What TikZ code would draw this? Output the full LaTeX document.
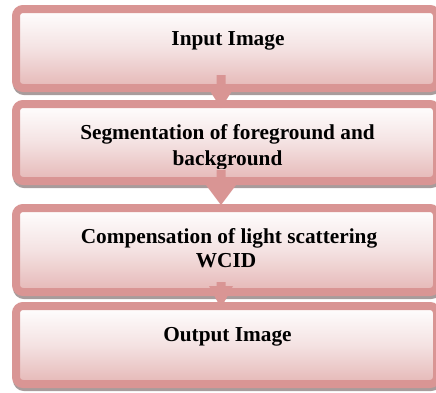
\documentclass[tikz,border=0pt]{standalone}
\usepackage{fontspec}
\setmainfont{Liberation Serif}
\usetikzlibrary{calc}
\definecolor{rose}{HTML}{D99594}
\definecolor{boxbot}{HTML}{E5B7B6}
\definecolor{boxmid}{HTML}{F4E2E2}
\definecolor{shadowc}{HTML}{A89C9C}
\tikzset{
  box/.style={draw=rose, line width=8pt, rounded corners=7pt,
    top color=white, bottom color=boxbot, middle color=boxmid,
    minimum width=421pt, inner sep=0pt, outer sep=0pt,
    preaction={draw=shadowc, fill=shadowc, line width=8pt,
      transform canvas={shift={(1pt,-3pt)}}}},
  txt/.style={font=\fontsize{21.3}{27}\selectfont\bfseries, inner sep=0pt, anchor=base, text=black},
  arrowc/.style={fill=rose, draw=none},
}
\begin{document}
\begin{tikzpicture}[x=1pt, y=-1pt]
\useasboundingbox (0,0) rectangle (436,392);
\clip (0,0) rectangle (436,392);
% boxes
\node[box, minimum height=79pt] (b1) at (226.5,48.5) {};
\node[box, minimum height=77pt] (b2) at (226.5,142.5) {};
\node[box, minimum height=84pt] (b3) at (226.5,250) {};
\node[box, minimum height=78pt] (b4) at (226.5,345) {};
% texts
\node[txt] (t1) at (228,45) {Input Image};
\node[txt] (t2a) at (227.5,139) {Segmentation of foreground and};
\begin{scope}
\clip (0,140) rectangle (436,168);
\node[txt] (t2b) at (227.5,165) {background};
\end{scope}
\node[txt] (t3a) at (229,243) {Compensation of light scattering};
\node[txt] (t3b) at (226,267) {WCID};
\node[txt] (t4) at (227.5,341) {Output Image};
% block arrows
\fill[arrowc] ($(b1.south)+(-10,-13)$) -- ($(b1.south)+(-1,-13)$) -- ($(b1.south)+(-1,0)$)
  -- ($(b1.south)+(7.5,0)$) -- ($(b2.north)+(-5.5,4)$) -- ($(b1.south)+(-18.5,0)$)
  -- ($(b1.south)+(-10,0)$) -- cycle;
\fill[arrowc] ($(b2.south)+(-10,-11)$) -- ($(b2.south)+(-1,-11)$) -- ($(b2.south)+(-1,4)$)
  -- ($(b2.south)+(9.5,4)$) -- ($(b3.north)+(-5.5,-3)$) -- ($(b2.south)+(-20.5,4)$)
  -- ($(b2.south)+(-10,4)$) -- cycle;
\fill[arrowc] ($(b3.south)+(-10,-10)$) -- ($(b3.south)+(-1,-10)$) -- ($(b3.south)+(-1,-6)$)
  -- ($(b3.south)+(6.5,-6)$) -- ($(b4.north)+(-5.5,2)$) -- ($(b3.south)+(-17.5,-6)$)
  -- ($(b3.south)+(-10,-6)$) -- cycle;
\end{tikzpicture}
\end{document}
